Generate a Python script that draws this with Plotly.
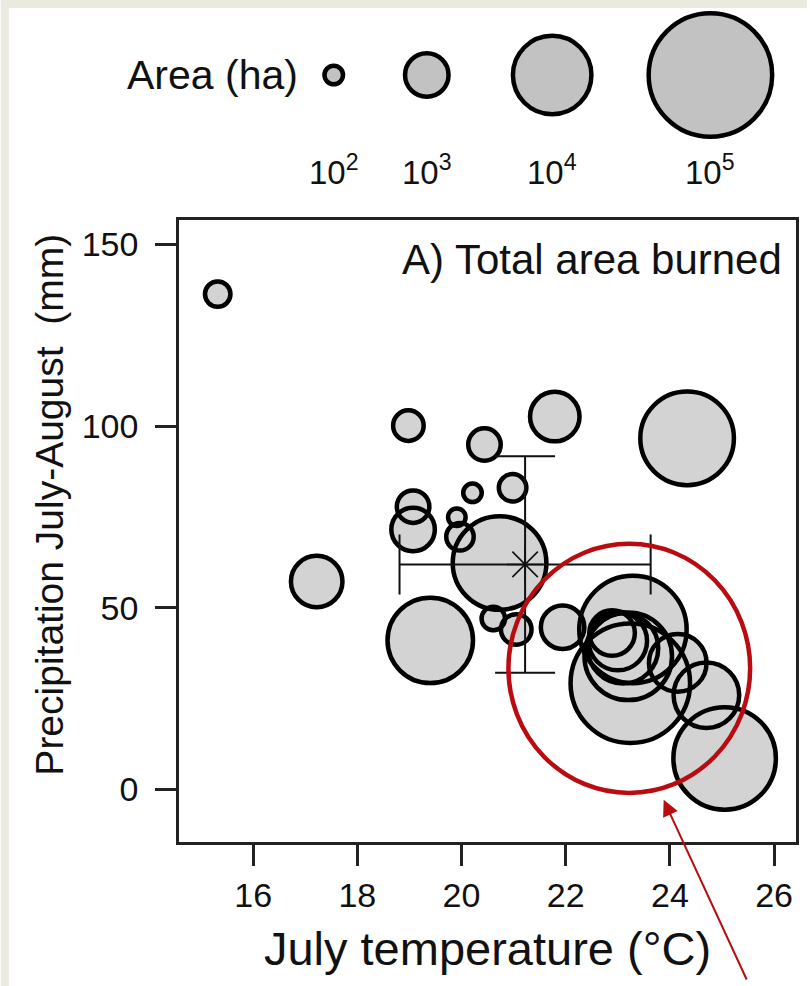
import math
import plotly.graph_objects as go

# ---------------- data ----------------
july_temp = [15.32, 17.22, 18.98, 20.44, 21.79, 24.33, 20.98, 20.21, 19.07, 19.07,
             19.91, 19.97, 19.40, 20.73, 20.61, 21.05, 21.94, 23.24, 23.29, 25.05,
             22.89, 23.00, 23.10, 23.20, 24.15, 24.70]
precip_ja = [136.3, 57.2, 100.1, 94.9, 102.6, 96.6, 83.0, 81.6, 77.8, 71.5,
             74.9, 69.5, 41.0, 62.3, 47.0, 44.0, 44.6, 29.2, 44.0, 8.5,
             43.0, 40.8, 38.8, 36.6, 34.8, 25.9]
area_ha = [210, 1800, 340, 405, 1560, 23000, 255, 100, 405, 1000,
           89, 255, 14800, 23000, 172, 340, 1000, 83000, 46500, 36300,
           1170, 2900, 6200, 16600, 2750, 4600]

mean_temp, sd_temp = 21.22, 2.41
mean_precip, sd_precip = 61.9, 29.8

legend_areas = [1e2, 1e3, 1e4, 1e5]
legend_labels = ["10<sup>2</sup>", "10<sup>3</sup>", "10<sup>4</sup>", "10<sup>5</sup>"]

x_ticks = [16, 18, 20, 22, 24, 26]
y_ticks = [0, 50, 100, 150]

# ---------------- styling ----------------
FONT = "Liberation Sans, Arial, Helvetica, sans-serif"
FILL = "#d3d3d3"
LEG_FILL = "#c2c2c2"
RED = "#b80c10"
INK = "#111111"
STROKE = 4.5

W, H = 810, 986
L_PX, R_PX, T_PX, B_PX = 179, 799, 220, 842


def px_x(p):
    return (p - L_PX) / (R_PX - L_PX)


def px_y(p):
    return (B_PX - p) / (B_PX - T_PX)


def bubble_size(a):
    L = math.log10(a)
    return 5.0 * L * L - 1.5


sizes = [bubble_size(a) for a in area_ha]
order = sorted(range(len(area_ha)), key=lambda i: -area_ha[i])
xs = [july_temp[i] for i in order]
ys = [precip_ja[i] for i in order]
ss = [sizes[i] for i in order]

fig = go.Figure()

# fills first
fig.add_trace(go.Scatter(
    x=xs, y=ys, mode="markers", hoverinfo="skip", showlegend=False,
    marker=dict(symbol="circle", size=ss, color=FILL, opacity=1,
                line=dict(width=STROKE, color=FILL)),
))
# outlines on top
fig.add_trace(go.Scatter(
    x=xs, y=ys, mode="markers", hoverinfo="skip", showlegend=False,
    marker=dict(symbol="circle-open", size=ss, color="black", opacity=1,
                line=dict(width=STROKE, color="black")),
))
# mean +/- sd cross
fig.add_trace(go.Scatter(
    x=[mean_temp], y=[mean_precip], mode="markers", showlegend=False,
    marker=dict(symbol="asterisk-open", size=30, color=INK, opacity=1,
                line=dict(width=1.6, color=INK)),
    error_x=dict(type="constant", value=sd_temp, color=INK, thickness=2, width=30),
    error_y=dict(type="constant", value=sd_precip, color=INK, thickness=2, width=30),
))

# size legend positions (layout, in figure pixels)
leg_x = [334.5, 428, 554, 713]
leg_y = 75
leg_lab_y = 170

annotations = []
shapes = [
    # beige frame strips (top and left)
    dict(type="rect", xref="paper", yref="paper", layer="below",
         x0=px_x(0), x1=px_x(W), y0=px_y(0), y1=px_y(8),
         fillcolor="#ebeadf", line=dict(width=0)),
    dict(type="rect", xref="paper", yref="paper", layer="below",
         x0=px_x(0), x1=px_x(8), y0=px_y(H), y1=px_y(0),
         fillcolor="#ebeadf", line=dict(width=0)),
]

for lx, a, lab in zip(leg_x, legend_areas, legend_labels):
    r = bubble_size(a) / 2
    shapes.append(dict(type="circle", xref="paper", yref="paper",
                       xsizemode="pixel", ysizemode="pixel",
                       xanchor=px_x(lx), yanchor=px_y(leg_y),
                       x0=-r, x1=r, y0=-r, y1=r,
                       fillcolor=LEG_FILL, line=dict(width=STROKE, color="black")))
    annotations.append(dict(x=px_x(lx), y=px_y(leg_lab_y), xref="paper", yref="paper",
                            text=lab, showarrow=False, xanchor="center", yanchor="middle",
                            font=dict(family=FONT, size=33, color=INK)))

annotations.append(dict(x=px_x(301), y=px_y(75), xref="paper", yref="paper",
                        text="Area (ha)", showarrow=False, xanchor="right",
                        yanchor="middle", font=dict(family=FONT, size=41, color=INK)))
annotations.append(dict(x=px_x(787), y=px_y(259), xref="paper", yref="paper",
                        text="A) Total area burned", showarrow=False, xanchor="right",
                        yanchor="middle", font=dict(family=FONT, size=42, color=INK)))
annotations.append(dict(x=px_x(48), y=px_y(505), xref="paper", yref="paper",
                        text="Precipitation July-August  (mm)", textangle=-90,
                        showarrow=False, xanchor="center", yanchor="middle",
                        font=dict(family=FONT, size=39, color=INK)))
# red arrow pointing to the highlighted cluster
annotations.append(dict(x=23.88, y=-2.9, xref="x", yref="y", text=" ", showarrow=True,
                        ax=86, ay=190, arrowhead=2, arrowsize=1.6, arrowwidth=2,
                        arrowcolor=RED))

# red highlight ellipse
shapes.append(dict(type="circle", xref="x", yref="y", x0=20.90, x1=25.54, y0=-1.0, y1=67.6,
                   line=dict(color=RED, width=4.5), fillcolor="rgba(0,0,0,0)",
                   layer="above"))

axis_common = dict(showgrid=False, zeroline=False, showline=True, mirror=True,
                   linecolor="#222", linewidth=2.5, ticks="outside", ticklen=21,
                   tickwidth=2.5, tickcolor="#222",
                   tickfont=dict(family=FONT, size=34, color=INK))

fig.update_layout(
    width=W, height=H,
    margin=dict(l=L_PX, r=W - R_PX, t=T_PX, b=H - B_PX, pad=0),
    paper_bgcolor="white", plot_bgcolor="white",
    showlegend=False,
    xaxis=dict(range=[14.577, 26.42], tickvals=x_ticks,
               title=dict(text="July temperature (°C)", standoff=20,
                          font=dict(family=FONT, size=47, color=INK)),
               **axis_common),
    yaxis=dict(range=[-14.5, 156.7], tickvals=y_ticks, ticklabelstandoff=10,
               **axis_common),
    annotations=annotations,
    shapes=shapes,
)

fig.write_html("out.html", config={"displayModeBar": False},
               post_script="document.body.style.margin='0';document.body.style.overflow='hidden';")
